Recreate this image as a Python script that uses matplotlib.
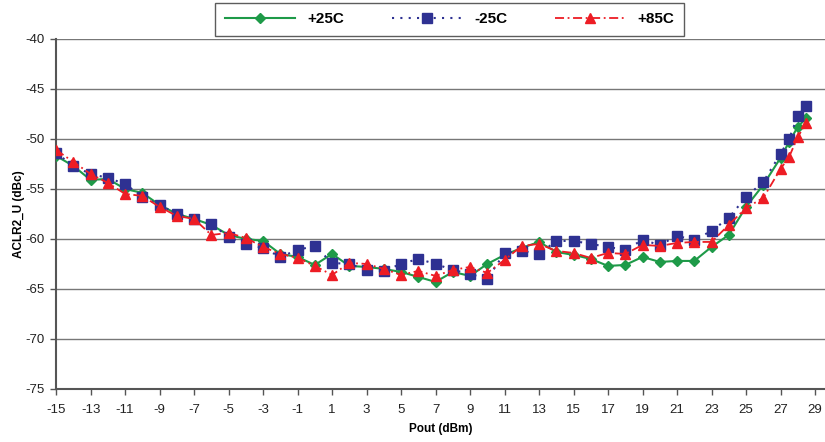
import matplotlib
matplotlib.use('Agg')
import matplotlib.pyplot as plt

plt.rcParams['font.family'] = ['Liberation Sans', 'DejaVu Sans']
plt.rcParams['axes.unicode_minus'] = False

# Pout (dBm)
pout = list(range(-15, 27)) + [27, 27.5, 28, 28.5]

# ACLR2_U (dBc) por temperatura
t25 = [-51.7, -52.7, -54.1, -54.0, -55.0, -55.4, -56.6, -57.5, -58.0, -58.6,
       -59.6, -60.0, -60.2, -61.5, -61.8, -62.6, -61.5, -62.7, -62.8, -63.0,
       -63.3, -63.8, -64.3, -63.3, -63.7, -62.5, -61.6, -60.9, -60.3, -61.3,
       -61.6, -62.0, -62.7, -62.6, -61.8, -62.3, -62.2, -62.2, -60.8, -59.6,
       -56.8, -54.6, -51.9, -50.3, -48.8, -47.9]
tm25 = [-51.4, -52.7, -53.5, -53.9, -54.5, -55.8, -56.6, -57.5, -58.0, -58.5,
        -59.8, -60.5, -60.9, -61.8, -61.1, -60.7, -62.4, -62.5, -63.1, -63.2,
        -62.5, -62.0, -62.5, -63.1, -63.5, -64.0, -61.4, -61.2, -61.5, -60.2,
        -60.2, -60.5, -60.8, -61.1, -60.1, -60.6, -59.7, -60.1, -59.2, -57.9,
        -55.8, -54.3, -51.5, -50.0, -47.7, -46.7]
t85 = [-51.1, -52.3, -53.5, -54.4, -55.5, -55.7, -56.8, -57.7, -58.0, -59.6,
       -59.4, -59.9, -60.8, -61.5, -61.9, -62.7, -63.6, -62.4, -62.5, -63.0,
       -63.6, -63.2, -63.7, -63.1, -62.8, -63.4, -62.1, -60.7, -60.5, -61.2,
       -61.4, -61.9, -61.4, -61.5, -60.6, -60.7, -60.4, -60.3, -60.3, -58.6,
       -56.9, -55.9, -53.0, -51.8, -49.8, -48.4]

xticks = list(range(-15, 30, 2))
yticks = list(range(-75, -39, 5))

fig = plt.figure(figsize=(8.25, 4.42), dpi=100)
ax = fig.add_axes([0.068, 0.12, 0.932, 0.792])

ax.plot(pout, t25, color='#1E9A48', linestyle='-', linewidth=1.5,
        marker='D', markersize=5, label='+25C', zorder=3)
ax.plot(pout, tm25, color='#2E3192', linestyle=(0, (1, 3)), linewidth=1.5,
        marker='s', markersize=6.5, label='-25C', zorder=4)
ax.plot(pout, t85, color='#ED1C24', linestyle=(0, (5, 2, 1, 2)), linewidth=1.3,
        marker='^', markersize=7.5, label='+85C', zorder=5)

ax.set_xlim(-15, 29.58)
ax.set_ylim(-75, -40)
ax.set_xticks(xticks)
ax.set_yticks(yticks)
ax.tick_params(axis='both', labelsize=9.5, color='#555555', length=4, width=1,
               labelcolor='#222222')
ax.tick_params(axis='x', pad=7)
ax.tick_params(axis='y', pad=4)
ax.yaxis.grid(True, color='#777777', linewidth=1)
ax.set_axisbelow(True)
for s in ['top', 'right']:
    ax.spines[s].set_visible(False)
for s in ['left', 'bottom']:
    ax.spines[s].set_color('#555555')
    ax.spines[s].set_linewidth(1.5)

ax.set_xlabel('Pout (dBm)', fontsize=8.5, fontweight='bold', labelpad=5)
ax.set_ylabel('ACLR2_U (dBc)', fontsize=8.5, fontweight='bold')
ax.yaxis.set_label_coords(-0.04, 0.5)

leg = fig.legend(loc='center', bbox_to_anchor=(0.545, 0.956), ncol=3,
                 frameon=True, fancybox=False, edgecolor='#333333',
                 prop={'size': 11, 'weight': 'bold'}, handlelength=4.6,
                 columnspacing=3.1, handletextpad=0.8, borderpad=0.65)
leg.get_frame().set_linewidth(1)

fig.savefig('out.png', dpi=100)
